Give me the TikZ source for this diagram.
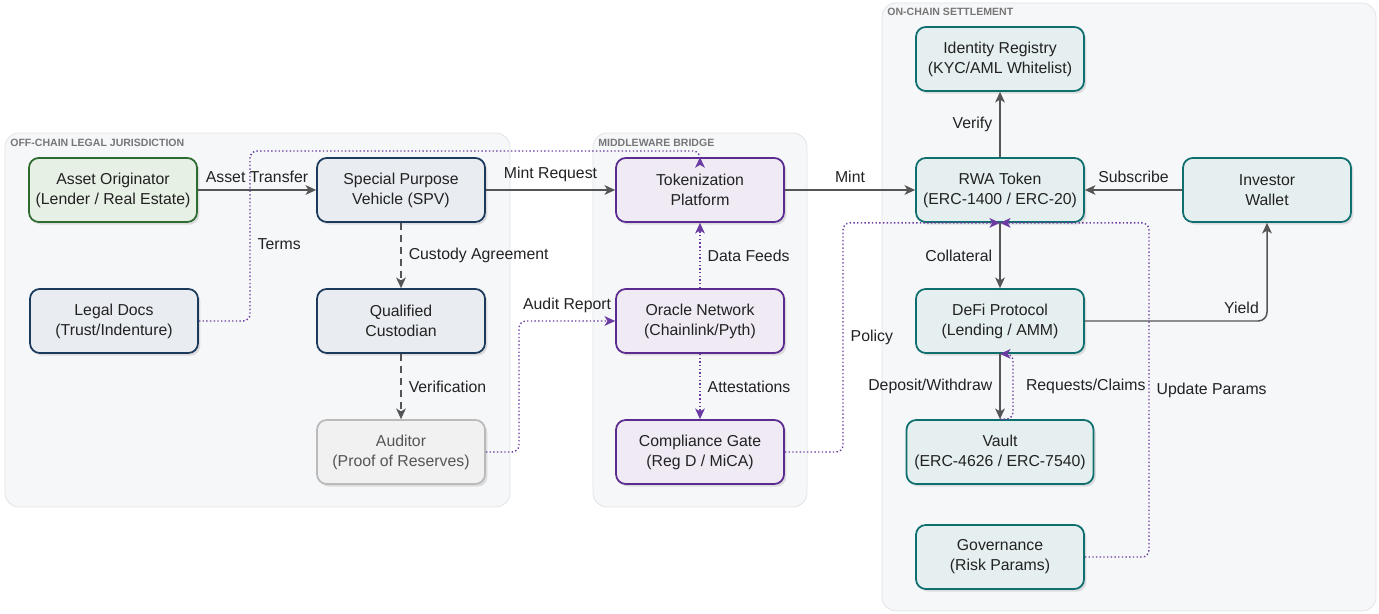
\documentclass[tikz,border=0pt]{standalone}
\usepackage{fontspec}
\setmainfont{Liberation Sans}
\usetikzlibrary{arrows.meta,positioning,calc,shadows}

\definecolor{navyline}{HTML}{1B3A5C}
\definecolor{navyfill}{HTML}{E9EDF1}
\definecolor{greenline}{HTML}{2E6B30}
\definecolor{greenfill}{HTML}{E7F0E5}
\definecolor{audline}{HTML}{BABABA}
\definecolor{audfill}{HTML}{F1F1F1}
\definecolor{audtxt}{HTML}{555555}
\definecolor{purpline}{HTML}{5B2C8F}
\definecolor{purpfill}{HTML}{EFEAF4}
\definecolor{tealline}{HTML}{0F6E6E}
\definecolor{tealfill}{HTML}{E5EFF0}
\definecolor{zoneline}{HTML}{DFE1E4}
\definecolor{zonefill}{HTML}{F6F7F9}
\definecolor{zonetxt}{HTML}{777777}
\definecolor{flowgrey}{HTML}{555555}
\definecolor{linkpurple}{HTML}{6A3BA0}
\definecolor{boxtxt}{HTML}{222222}

\begin{document}
\begin{tikzpicture}[
  x=0.02cm, y=-0.02cm,
  font=\fontsize{9}{11.3}\selectfont,
  >={Stealth[length=6pt,width=5.5pt,inset=1.6pt]},
  zone/.style={draw=zoneline, fill=zonefill, rounded corners=8pt, line width=0.4pt},
  zonelbl/.style={anchor=west, inner sep=0pt, text=zonetxt, font=\fontsize{6}{6.5}\selectfont\bfseries},
  bx/.style={draw, rounded corners=5.5pt, minimum width=3.36cm, minimum height=1.28cm, align=center,
    line width=1pt, text=boxtxt, drop shadow={shadow xshift=1.3pt, shadow yshift=-1.5pt, opacity=0.22}},
  offc/.style={bx, draw=navyline, fill=navyfill},
  orig/.style={bx, draw=greenline, fill=greenfill},
  aud/.style={bx, draw=audline, fill=audfill, text=audtxt},
  midw/.style={bx, draw=purpline, fill=purpfill},
  chain/.style={bx, draw=tealline, fill=tealfill},
  flow/.style={->, draw=flowgrey, line width=0.85pt, every node/.style={inner sep=4pt, text=boxtxt}},
  dflow/.style={flow, dash pattern=on 4pt off 2.8pt},
  link/.style={->, draw=linkpurple, line width=0.8pt, dash pattern=on 0.8pt off 1.3pt, rounded corners=4pt,
    every node/.style={inner sep=4pt, text=boxtxt}}
]
  \useasboundingbox (0,0) rectangle (1379,614);

  \draw[zone] (5,133) rectangle (510,507);
  \node[zonelbl] (offlbl) at (10,143) {OFF-CHAIN LEGAL JURISDICTION};
  \draw[zone] (593,133) rectangle (807,507);
  \node[zonelbl] (midlbl) at (598,143) {MIDDLEWARE BRIDGE};
  \draw[zone] (882,3) rectangle (1376,611);
  \node[zonelbl] (onlbl) at (887,12) {ON-CHAIN SETTLEMENT};

  \node[orig]  (origin) at (113,190)  {Asset Originator\\(Lender / Real Estate)};
  \node[offc]  (spv)    at (401,190)  {Special Purpose\\Vehicle (SPV)};
  \node[offc]  (legal)  at (114,321)  {Legal Docs\\(Trust/Indenture)};
  \node[offc]  (cust)   at (401,321)  {Qualified\\Custodian};
  \node[aud]   (audit)  at (401,452)  {Auditor\\(Proof of Reserves)};

  \node[midw]  (tok)    at (700,190)  {Tokenization\\Platform};
  \node[midw]  (oracle) at (700,321)  {Oracle Network\\(Chainlink/Pyth)};
  \node[midw]  (comp)   at (700,452)  {Compliance Gate\\(Reg D / MiCA)};

  \node[chain] (idreg)  at (1000,59)  {Identity Registry\\(KYC/AML Whitelist)};
  \node[chain] (rwa)    at (1000,190) {RWA Token\\(ERC-1400 / ERC-20)};
  \node[chain] (wallet) at (1267,190) {Investor\\Wallet};
  \node[chain] (defi)   at (1000,321) {DeFi Protocol\\(Lending / AMM)};
  \node[chain, minimum width=3.74cm] (vault) at (1000,452) {Vault\\(ERC-4626 / ERC-7540)};
  \node[chain] (gov)    at (1000,557) {Governance\\(Risk Params)};

  \draw[flow] (origin) -- node[above]{Asset Transfer} (spv);
  \draw[flow] (spv) -- node[above]{Mint Request} (tok);
  \draw[flow] (tok) -- node[above]{Mint} (rwa);
  \draw[flow] (wallet) -- node[above]{Subscribe} (rwa);
  \draw[flow] (rwa) -- node[left]{Verify} (idreg);
  \draw[flow] (rwa) -- node[left]{Collateral} (defi);
  \draw[flow] (defi) -- node[left]{Deposit/Withdraw} (vault);
  \draw[flow, rounded corners=5pt] (defi.east) -| node[above, pos=0.43]{Yield} (wallet.south);

  \draw[dflow] (spv) -- node[right]{Custody Agreement} (cust);
  \draw[dflow] (cust) -- node[right]{Verification} (audit);

  \draw[link] (legal.east) -- (250,321) -- node[right, pos=0.45]{Terms} (250,151) -| (700,167) [sharp corners] -- (tok.north);
  \draw[link] (audit.east) -- (519,452) |- node[above, pos=0.75]{Audit Report} (oracle.west);
  \draw[link] (oracle) -- node[right]{Data Feeds} (tok);
  \draw[link] (oracle) -- node[right]{Attestations} (comp);
  \draw[link] (comp.east) -- (843,452) |- node[right, pos=0.25]{Policy} (rwa.south);
  \draw[link] (gov.east) -- (1149,557) |- node[right, pos=0.25]{Update Params} (rwa.south);
  \draw[link] (vault.north) -| (1013,386) node[right=3pt]{Requests/Claims} |- (defi.south);
\end{tikzpicture}
\end{document}
